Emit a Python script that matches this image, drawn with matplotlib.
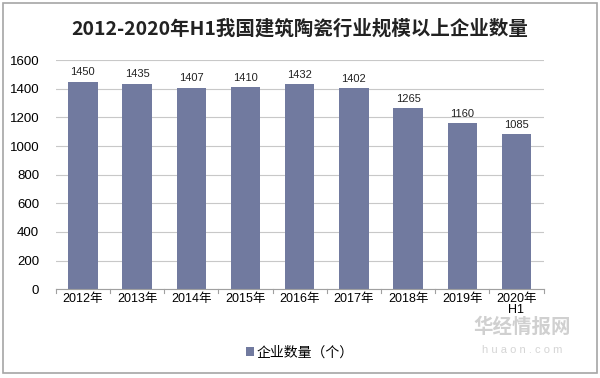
import matplotlib.pyplot as plt
from matplotlib.patches import Rectangle

plt.rcParams['font.family'] = ['Liberation Sans', 'Noto Sans CJK SC', 'DejaVu Sans']

years = ['2012年', '2013年', '2014年', '2015年', '2016年', '2017年', '2018年', '2019年', '2020年\nH1']
counts = [1450, 1435, 1407, 1410, 1432, 1402, 1265, 1160, 1085]
yticks = [0, 200, 400, 600, 800, 1000, 1200, 1400, 1600]

fig = plt.figure(figsize=(6, 3.78), dpi=100)
fig.patches.append(Rectangle((0.005, 0.013), 0.99, 0.98, transform=fig.transFigure,
                             fill=False, edgecolor='#a6a6a6', linewidth=1.2))

ax = fig.add_axes([0.093, 0.235, 0.813, 0.606])
bars = ax.bar(range(len(years)), counts, width=0.54, color='#717a9f', label='企业数量（个）', zorder=2)
for i, v in enumerate(counts):
    ax.text(i, v + 30, str(v), ha='center', va='bottom', fontsize=8, color='#222222')

ax.set_xlim(-0.5, len(years) - 0.5)
ax.set_ylim(0, 1600)
ax.set_yticks(yticks)
ax.set_xticks(range(len(years)))
ax.set_xticklabels(years, fontsize=9, linespacing=0.9)
ax.tick_params(axis='y', length=0, labelsize=9.5, pad=12)
ax.tick_params(axis='x', length=0, pad=3)
ax.grid(axis='y', color='#c8c8c8', linewidth=0.8, zorder=0)
for s in ['top', 'right', 'left']:
    ax.spines[s].set_visible(False)
ax.spines['bottom'].set_color('#a0a0a0')
# small tick separators between categories
for k in range(len(years) + 1):
    ax.plot([k - 0.5, k - 0.5], [0, -25], color='#a0a0a0', linewidth=0.8, clip_on=False)

fig.text(0.5, 0.925, '2012-2020年H1我国建筑陶瓷行业规模以上企业数量', ha='center', va='center',
         fontsize=14, fontweight='bold', color='#222222', family=['Noto Sans CJK SC'])

fig.legend(handles=[bars], loc='center', bbox_to_anchor=(0.5, 0.068), frameon=False,
           fontsize=10, handlelength=0.6, handleheight=0.6, handletextpad=0.2)

# watermark
fig.text(0.87, 0.135, '华经情报网', ha='center', va='center', fontsize=14, color='#d0d0d0',
         fontweight='bold', family=['Noto Sans CJK SC'])
fig.text(0.87, 0.075, 'h u a o n . c o m', ha='center', va='center', fontsize=8, color='#d5d5d5')

fig.savefig('out.png', dpi=100)
